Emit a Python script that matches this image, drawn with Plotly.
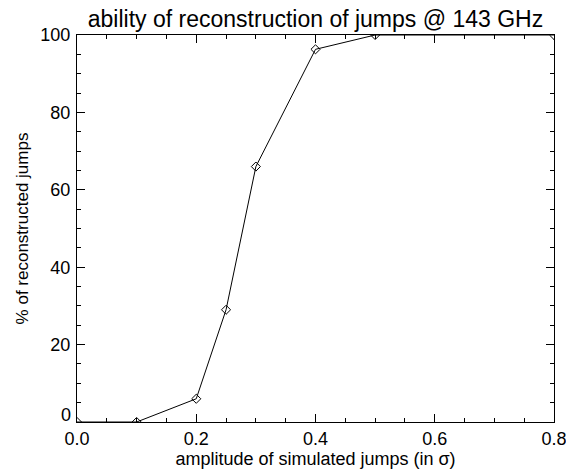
import plotly.graph_objects as go

amplitude = [0.0, 0.1, 0.2, 0.25, 0.3, 0.4, 0.5, 0.8]
percent_reconstructed = [0.0, 0.0, 6.0, 29.0, 66.0, 96.3, 100.0, 100.0]

x_tick_values = [0.0, 0.2, 0.4, 0.6, 0.8]
y_tick_values = [20, 40, 60, 80, 100]
y_zero_label = "0"

title_text = "ability of reconstruction of jumps @ 143 GHz"
x_label = "amplitude of simulated jumps (in σ)"
y_label = "% of reconstructed jumps"

font = "Liberation Sans, Arial, sans-serif"

fig = go.Figure()
fig.add_trace(go.Scatter(
    x=amplitude, y=percent_reconstructed,
    mode="lines+markers",
    line=dict(color="black", width=1),
    marker=dict(symbol="diamond-open", size=7, color="black", line=dict(width=1)),
    cliponaxis=True,
    showlegend=False,
    hoverinfo="skip",
))

axis_common = dict(
    showgrid=False, zeroline=False, automargin=False,
    showline=True, linecolor="black", linewidth=1, mirror="ticks",
    ticks="inside", ticklen=8, tickcolor="black", tickwidth=1,
    ticklabeloverflow="allow",
    layer="above traces",
)

fig.update_xaxes(
    range=[0, 0.8], tickvals=x_tick_values, tickformat=".1f",
    ticklabelstandoff=0,
    tickfont=dict(family=font, size=18, color="black"),
    minor=dict(ticks="inside", ticklen=4, dtick=0.05, tick0=0, tickcolor="black", showgrid=False),
    title=dict(text=x_label, font=dict(family=font, size=18, color="black"), standoff=4),
    **axis_common,
)
fig.update_yaxes(
    range=[0, 100], tickvals=y_tick_values,
    ticklabelstandoff=2,
    tickfont=dict(family=font, size=18, color="black"),
    minor=dict(ticks="inside", ticklen=4, dtick=5, tick0=0, tickcolor="black", showgrid=False),
    title=dict(text=y_label, font=dict(family=font, size=17, color="black"), standoff=7),
    **axis_common,
)

fig.add_annotation(
    x=0, y=0, xref="x", yref="y", text=y_zero_label, showarrow=False,
    xanchor="right", yanchor="bottom", xshift=-4, yshift=-5,
    font=dict(family=font, size=18, color="black"),
)

fig.update_layout(
    width=566, height=470,
    margin=dict(l=77, r=12, t=35, b=48),
    plot_bgcolor="white", paper_bgcolor="white",
    hovermode=False,
    title=dict(text=title_text, x=0.5, xref="paper", yref="container",
               y=1 - 19 / 470, yanchor="middle", automargin=False,
               font=dict(family=font, size=23, color="black")),
)

fig.write_html(
    "out.html",
    config={"displayModeBar": False},
    post_script="document.body.style.margin='0';document.body.style.overflow='hidden';",
)
